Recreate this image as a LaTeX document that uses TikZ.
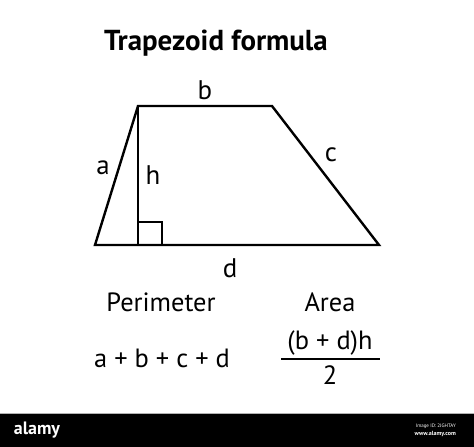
\documentclass[tikz,border=0pt]{standalone}
\usepackage{fontspec}
\setmainfont{PT Sans}
\begin{document}
\begin{tikzpicture}[x=1bp,y=-1bp,
  edge/.style={line width=2.4bp,line join=miter},
  lbl/.style={font=\fontsize{27}{29}\selectfont,inner sep=0pt},
  txt/.style={font=\fontsize{26.5}{29}\selectfont,inner sep=0pt}]
\useasboundingbox (0,0) rectangle (474,447);
\fill[white] (0,0) rectangle (474,447);
\coordinate (BL) at (95,245);
\coordinate (BR) at (379,245);
\coordinate (TL) at (138,106);
\coordinate (TR) at (272,106);
\coordinate (H) at (138,245);
\draw[edge] (BL) -- (BR) -- (TR) -- (TL) -- cycle;
\draw[edge] (TL) -- (H);
\draw[line width=2bp] (138,222) -- (162,222) -- (162,245);
\node[font=\fontsize{29}{32}\selectfont\bfseries,inner sep=0pt] (title) at (216,43) {Trapezoid formula};
\node[lbl] (b) at (205,90) {b};
\node[lbl] (a) at (103,168) {a};
\node[lbl] (h) at (153,175) {h};
\node[lbl] (c) at (331,155) {c};
\node[lbl] (d) at (230,268) {d};
\node[txt] (per) at (161,302) {Perimeter};
\node[txt] (area) at (330,302) {Area};
\node[txt] (psum) at (162,358) {a + b + c + d};
\node[txt] (num) at (330,343) {(b + d)h};
\draw[line width=1.6bp] (281,359) -- (380,359);
\node[txt] (den) at (330,375) {2};
\fill[black] (0,413) rectangle (474,447);
\draw[gray!60,line width=0.6bp] (0,413) -- (474,413);
\node[white,font=\fontsize{18}{18}\selectfont\bfseries,inner sep=0pt] (wm) at (37,430) {alamy};
\node[white,font=\fontsize{5}{6}\selectfont,anchor=east,inner sep=0pt] (id) at (456,426) {Image ID: 2JGHTAY};
\node[white,font=\fontsize{6}{7}\selectfont\bfseries,anchor=east,inner sep=0pt] (url) at (456,434) {www.alamy.com};
\end{tikzpicture}
\end{document}
